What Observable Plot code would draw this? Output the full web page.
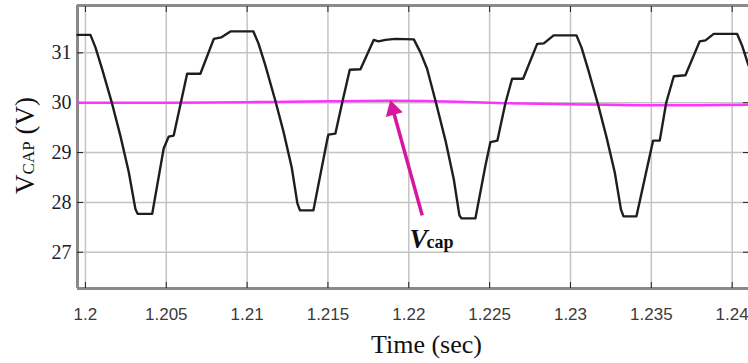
<!DOCTYPE html>
<html>
<head>
<meta charset="utf-8">
<script src="https://cdn.jsdelivr.net/npm/d3@7"></script>
<script src="https://cdn.jsdelivr.net/npm/@observablehq/plot@0.6"></script>
<style>
  html, body { margin: 0; padding: 0; background: #fff; }
  #chart { width: 748px; height: 363px; }
</style>
</head>
<body>
<div id="chart"></div>
<script>
// ---- data ----
const xTicks = [1.2, 1.205, 1.21, 1.215, 1.22, 1.225, 1.23, 1.235, 1.24];
const xTickLabels = ["1.2", "1.205", "1.21", "1.215", "1.22", "1.225", "1.23", "1.235", "1.24"];
const yTicks = [27, 28, 29, 30, 31];
const yTickLabels = ["27", "28", "29", "30", "31"];
const xDomain = [1.19951, 1.24101];
const yDomain = [26.273, 31.95];

// black waveform (time in s, voltage in V)
const waveT = [
  1.19951, 1.20031, 1.20062, 1.20103, 1.20165, 1.20216, 1.20268, 1.20309, 1.20323, 1.20413,
  1.20484, 1.20515, 1.20546, 1.20629, 1.20711, 1.20794, 1.20839, 1.20897, 1.21021,
  1.21039, 1.21070, 1.21111, 1.21173, 1.21225, 1.21276, 1.21311, 1.21327, 1.21410,
  1.21497, 1.21503, 1.21546, 1.21588, 1.21635, 1.21701, 1.21783, 1.21812, 1.21856, 1.21917, 1.22031,
  1.22072, 1.22113, 1.22165, 1.22227, 1.22278, 1.22313, 1.22326, 1.22412,
  1.22474, 1.22505, 1.22548, 1.22598, 1.22639, 1.22707, 1.22794, 1.22835, 1.22896, 1.23037,
  1.23068, 1.23109, 1.23171, 1.23222, 1.23274, 1.23312, 1.23328, 1.23408,
  1.23511, 1.23552, 1.23592, 1.23639, 1.23711, 1.23799, 1.23835, 1.23886, 1.24031,
  1.24062, 1.24101];
const waveV = [
  31.36, 31.36, 31.11, 30.68, 29.98, 29.34, 28.61, 27.87, 27.77, 27.77,
  29.08, 29.32, 29.34, 30.58, 30.58, 31.28, 31.31, 31.43, 31.43,
  31.43, 31.19, 30.77, 30.06, 29.42, 28.70, 27.98, 27.84, 27.84,
  29.28, 29.36, 29.38, 30.00, 30.66, 30.67, 31.26, 31.23, 31.26, 31.28, 31.27,
  31.01, 30.68, 30.04, 29.24, 28.47, 27.74, 27.68, 27.68,
  28.74, 29.21, 29.24, 30.00, 30.48, 30.48, 31.18, 31.19, 31.35, 31.35,
  31.11, 30.67, 29.96, 29.32, 28.60, 27.86, 27.72, 27.72,
  29.24, 29.24, 30.00, 30.53, 30.55, 31.23, 31.25, 31.38, 31.38,
  31.14, 30.75];

// magenta Vcap trace
const capT = [1.19951, 1.2050, 1.2100, 1.2150, 1.2190, 1.2230, 1.2260, 1.2300, 1.2340, 1.2380, 1.24101];
const capV = [30.00, 30.00, 30.01, 30.03, 30.04, 30.02, 29.99, 29.97, 29.95, 29.95, 29.96];

// annotation arrow (tail -> head) and label
const arrowTail = {t: 1.22083, v: 27.74};
const arrowHead = {t: 1.21902, v: 29.86};
const capLabel = {t: 1.22004, v: 27.09, main: "V", sub: "cap"};

const wave = waveT.map((t, i) => ({t, v: waveV[i]}));
const cap = capT.map((t, i) => ({t, v: capV[i]}));

const serif = "'Liberation Serif', 'Times New Roman', serif";
const sans = "'Liberation Sans', Arial, sans-serif";
const headAngle = Math.atan2(31.7, 115) * -180 / Math.PI;

const chart = Plot.plot({
  width: 748,
  height: 363,
  marginLeft: 77,
  marginRight: 0,
  marginTop: 5,
  marginBottom: 75,
  style: {background: "#fff", color: "#222", overflow: "visible"},
  x: {domain: xDomain},
  y: {domain: yDomain},
  marks: [
    Plot.gridX(xTicks, {stroke: "#c4c4c4", strokeOpacity: 1, strokeWidth: 1.5}),
    Plot.gridY(yTicks, {stroke: "#c4c4c4", strokeOpacity: 1, strokeWidth: 1.5}),
    Plot.ruleX([xDomain[0]], {stroke: "#8a8a8a", strokeWidth: 3}),
    Plot.ruleY([yDomain[1]], {stroke: "#8a8a8a", strokeWidth: 3}),
    Plot.ruleY([yDomain[0]], {stroke: "#8a8a8a", strokeWidth: 3}),
    // inward ticks
    Plot.axisX(xTicks, {anchor: "bottom", tickSize: 6, dy: -6, tickFormat: () => "", stroke: "#222", label: null}),
    Plot.axisX(xTicks, {anchor: "top", tickSize: 6, dy: 6, tickFormat: () => "", stroke: "#222", label: null}),
    Plot.axisY(yTicks, {anchor: "left", tickSize: 6, dx: 6, tickFormat: () => "", stroke: "#222", label: null}),
    Plot.axisY(yTicks, {anchor: "right", tickSize: 6, dx: -6, tickFormat: () => "", stroke: "#222", label: null}),
    // tick labels
    Plot.axisX(xTicks, {anchor: "bottom", tickSize: 0, tickPadding: 19, tickFormat: (d, i) => xTickLabels[i],
      fontFamily: sans, fontSize: 17, fill: "#3a3a3a", label: null}),
    Plot.axisY(yTicks, {anchor: "left", tickSize: 0, tickPadding: 6, tickFormat: (d, i) => yTickLabels[i],
      fontFamily: serif, fontSize: 20, fill: "#1c1c2c", label: null}),
    // data
    Plot.line(cap, {x: "t", y: "v", stroke: "#ff33ff", strokeWidth: 2.6, curve: "natural"}),
    Plot.line(wave, {x: "t", y: "v", stroke: "#1e1e1e", strokeWidth: 2.4, strokeLinejoin: "round"}),
    // annotation
    Plot.link([{t1: arrowTail.t, v1: arrowTail.v, t2: arrowHead.t, v2: arrowHead.v}],
      {x1: "t1", y1: "v1", x2: "t2", y2: "v2", stroke: "#d8159f", strokeWidth: 3.5}),
    Plot.dot([arrowHead], {x: "t", y: "v", symbol: "triangle", r: 6.5, fill: "#d8159f", stroke: "none", rotate: headAngle}),
    Plot.text([capLabel], {x: "t", y: "v", text: "main", textAnchor: "start", lineAnchor: "bottom",
      fontFamily: serif, fontWeight: "bold", fontStyle: "italic", fontSize: 27, fill: "#111"}),
    Plot.text([capLabel], {x: "t", y: "v", text: "sub", textAnchor: "start", lineAnchor: "bottom", dx: 17,
      fontFamily: serif, fontWeight: "bold", fontSize: 18, fill: "#111"})
  ]
});

const svg = d3.select(chart);
// y-axis title
const yt = svg.append("text")
  .attr("transform", "translate(33.5,145.5) rotate(-90)")
  .attr("text-anchor", "middle")
  .attr("font-family", serif)
  .attr("font-size", 27)
  .attr("fill", "#111");
yt.append("tspan").text("V");
yt.append("tspan").attr("font-size", 17).text("CAP");
yt.append("tspan").text(" (V)");
// x-axis title
svg.append("text")
  .attr("x", 426.5).attr("y", 353)
  .attr("text-anchor", "middle")
  .attr("font-family", serif)
  .attr("font-size", 26)
  .attr("fill", "#111")
  .text("Time (sec)");

document.getElementById("chart").appendChild(chart);
</script>
</body>
</html>
